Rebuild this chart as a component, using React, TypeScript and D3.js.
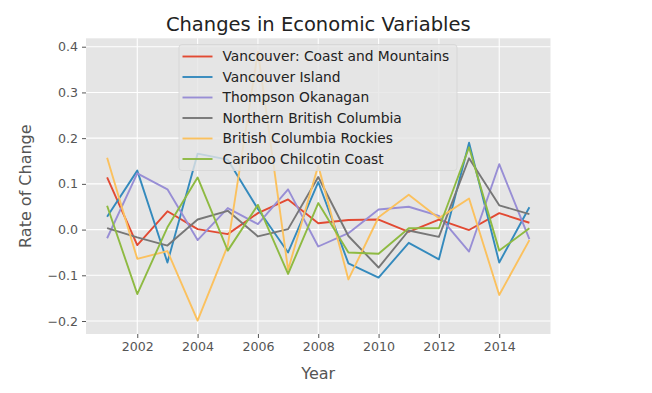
import React, { useEffect, useRef } from 'react';
import * as d3 from 'd3';

const years = [2001, 2002, 2003, 2004, 2005, 2006, 2007, 2008, 2009, 2010, 2011, 2012, 2013, 2014, 2015];

const seriesNames = [
  'Vancouver: Coast and Mountains',
  'Vancouver Island',
  'Thompson Okanagan',
  'Northern British Columbia',
  'British Columbia Rockies',
  'Cariboo Chilcotin Coast',
];

const vancouverCoast = [0.114, -0.034, 0.040, 0.001, -0.010, 0.036, 0.066, 0.014, 0.021, 0.022, -0.005, 0.022, -0.001, 0.036, 0.015];
const vancouverIsland = [0.028, 0.129, -0.072, 0.166, 0.153, 0.045, -0.050, 0.104, -0.074, -0.105, -0.029, -0.065, 0.190, -0.072, 0.049];
const thompsonOkanagan = [-0.019, 0.123, 0.088, -0.023, 0.047, 0.012, 0.088, -0.037, -0.008, 0.044, 0.050, 0.030, -0.048, 0.143, -0.021];
const northernBC = [0.003, -0.017, -0.035, 0.022, 0.041, -0.015, 0.001, 0.115, -0.014, -0.083, -0.002, -0.016, 0.156, 0.053, 0.034];
const bcRockies = [0.157, -0.064, -0.047, -0.199, -0.035, 0.389, -0.088, 0.140, -0.109, 0.027, 0.076, 0.025, 0.068, -0.143, -0.023];
const caribooChilcotin = [0.052, -0.141, 0.005, 0.114, -0.046, 0.054, -0.097, 0.058, -0.050, -0.053, 0.003, 0.003, 0.180, -0.046, 0.003];

const seriesValues = [vancouverCoast, vancouverIsland, thompsonOkanagan, northernBC, bcRockies, caribooChilcotin];
const colors = ['#E24A33', '#348ABD', '#988ED5', '#777777', '#FBC15E', '#8EBA42'];

const xTicks = [2002, 2004, 2006, 2008, 2010, 2012, 2014];
const yTicks = [-0.2, -0.1, 0.0, 0.1, 0.2, 0.3, 0.4];

const App = () => {
  const svgRef = useRef<SVGSVGElement>(null);
  const width = 652;
  const height = 393;
  const margin = { top: 38.3, right: 101.5, bottom: 59, left: 86 };

  useEffect(() => {
    d3.select(svgRef.current).selectAll('*').remove();
    const svg = d3.select(svgRef.current);
    const font = 'DejaVu Sans, sans-serif';

    const chartWidth = width - margin.left - margin.right;
    const chartHeight = height - margin.top - margin.bottom;

    // matplotlib style 5% padding
    const xMin = d3.min(years)!, xMax = d3.max(years)!;
    const xPad = (xMax - xMin) * 0.05;
    const allVals = seriesValues.flat();
    const yMin = d3.min(allVals)!, yMax = d3.max(allVals)!;
    const yPad = (yMax - yMin) * 0.05;

    const xScale = d3.scaleLinear().domain([xMin - xPad, xMax + xPad]).range([0, chartWidth]);
    const yScale = d3.scaleLinear().domain([yMin - yPad, yMax + yPad]).range([chartHeight, 0]);

    const g = svg.append('g').attr('transform', `translate(${margin.left}, ${margin.top})`);

    g.append('rect')
      .attr('width', chartWidth)
      .attr('height', chartHeight)
      .attr('fill', '#E5E5E5');

    // grid
    g.selectAll('.vgrid').data(xTicks).enter().append('line')
      .attr('x1', d => xScale(d)).attr('x2', d => xScale(d))
      .attr('y1', 0).attr('y2', chartHeight)
      .attr('stroke', '#ffffff').attr('stroke-width', 1.1);
    g.selectAll('.hgrid').data(yTicks).enter().append('line')
      .attr('y1', d => yScale(d)).attr('y2', d => yScale(d))
      .attr('x1', 0).attr('x2', chartWidth)
      .attr('stroke', '#ffffff').attr('stroke-width', 1.1);

    // axes
    const fmt = (d: number) => d3.format('.1f')(d).replace('-', '\u2212');
    const xAxis = g.append('g')
      .attr('transform', `translate(0, ${chartHeight})`)
      .call(d3.axisBottom(xScale).tickValues(xTicks).tickFormat(d3.format('d')).tickSize(4).tickPadding(4));
    const yAxis = g.append('g')
      .call(d3.axisLeft(yScale).tickValues(yTicks).tickFormat(d => fmt(d as number)).tickSize(4).tickPadding(4));

    [xAxis, yAxis].forEach(ax => {
      ax.select('.domain').remove();
      ax.selectAll('line').attr('stroke', '#555555');
      ax.selectAll('text')
        .attr('fill', '#555555')
        .style('font-family', font)
        .style('font-size', '12.6px');
    });

    // lines
    seriesValues.forEach((vals, i) => {
      const line = d3.line<number>()
        .x((_, j) => xScale(years[j]))
        .y(d => yScale(d));
      g.append('path')
        .datum(vals)
        .attr('fill', 'none')
        .attr('stroke', colors[i])
        .attr('stroke-width', 1.9)
        .attr('stroke-linejoin', 'round')
        .attr('d', line);
    });

    // legend
    const legend = g.append('g').attr('transform', `translate(${179 - margin.left}, ${44.5 - margin.top})`);
    legend.append('rect')
      .attr('width', 278)
      .attr('height', 126)
      .attr('rx', 3)
      .attr('fill', '#E5E5E5')
      .attr('fill-opacity', 0.8)
      .attr('stroke', '#d5d5d5')
      .attr('stroke-opacity', 0.8);
    seriesNames.forEach((name, i) => {
      const row = legend.append('g').attr('transform', `translate(0, ${12 + i * 20.5})`);
      row.append('line')
        .attr('x1', 3.5).attr('x2', 33.5)
        .attr('stroke', colors[i]).attr('stroke-width', 1.9);
      row.append('text')
        .attr('x', 43.5)
        .attr('dy', '0.35em')
        .attr('fill', '#222222')
        .style('font-family', font)
        .style('font-size', '13.8px')
        .text(name);
    });

    // labels
    svg.append('text')
      .attr('x', margin.left + chartWidth / 2)
      .attr('y', 31)
      .attr('text-anchor', 'middle')
      .attr('fill', '#222222')
      .style('font-family', font)
      .style('font-size', '19.5px')
      .text('Changes in Economic Variables');

    svg.append('text')
      .attr('x', margin.left + chartWidth / 2)
      .attr('y', 379)
      .attr('text-anchor', 'middle')
      .attr('fill', '#555555')
      .style('font-family', font)
      .style('font-size', '16px')
      .text('Year');

    svg.append('text')
      .attr('transform', `translate(31, ${margin.top + chartHeight / 2}) rotate(-90)`)
      .attr('text-anchor', 'middle')
      .attr('fill', '#555555')
      .style('font-family', font)
      .style('font-size', '16px')
      .text('Rate of Change');
  }, []);

  return (
    <div style={{ position: 'absolute', left: 0, top: 0, background: '#ffffff' }}>
      <svg ref={svgRef} width={width} height={height}></svg>
    </div>
  );
};

export default App;
